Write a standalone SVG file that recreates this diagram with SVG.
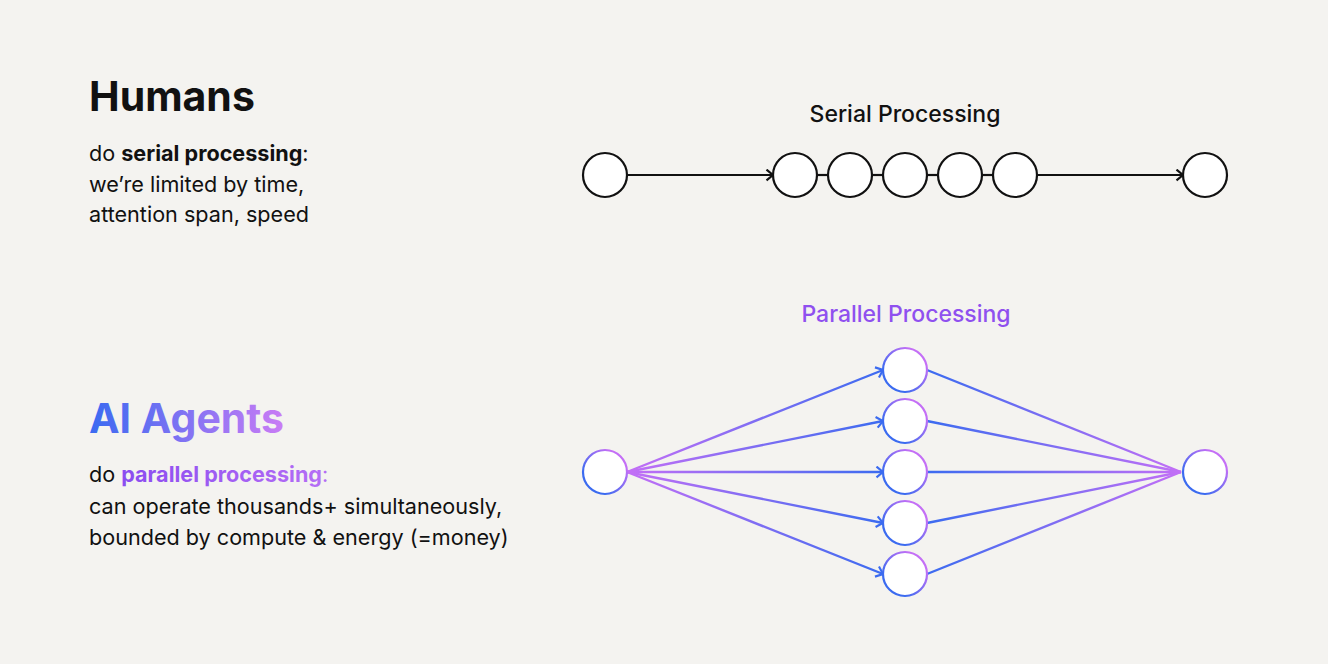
<svg xmlns="http://www.w3.org/2000/svg" width="1328" height="664" viewBox="0 0 1328 664">
<defs>
<style>
.t{font-family:Inter,"Liberation Sans",sans-serif;fill:#111}
.h{font-size:41px;font-weight:700}
.b{font-size:21.6px}
.title{font-size:23px;font-weight:500;text-anchor:middle}
.sn{fill:#fff;stroke:#111;stroke-width:2.2}
.sl{stroke:#111;stroke-width:2.2;fill:none}
.pn{fill:#fff;stroke:url(#gNode);stroke-width:2.2}
</style>
<linearGradient id="gNode" x1="0" y1="1" x2="1" y2="0">
<stop offset="0.25" stop-color="#3b6bf0"/>
<stop offset="0.8" stop-color="#c46ff6"/>
</linearGradient>
<linearGradient id="gLeft" gradientUnits="userSpaceOnUse" x1="627" y1="0" x2="883" y2="0">
<stop offset="0" stop-color="#c46ff6"/>
<stop offset="1" stop-color="#3b6bf0"/>
</linearGradient>
<linearGradient id="gRight" gradientUnits="userSpaceOnUse" x1="927" y1="0" x2="1183" y2="0">
<stop offset="0" stop-color="#3b6bf0"/>
<stop offset="1" stop-color="#c46ff6"/>
</linearGradient>
<linearGradient id="gTitle" gradientUnits="userSpaceOnUse" x1="89" y1="0" x2="287" y2="0">
<stop offset="0" stop-color="#3a6af1"/>
<stop offset="1" stop-color="#cc7cf5"/>
</linearGradient>
<linearGradient id="gPP" gradientUnits="userSpaceOnUse" x1="120" y1="0" x2="315" y2="0">
<stop offset="0" stop-color="#8a4cf0"/>
<stop offset="1" stop-color="#b36cf5"/>
</linearGradient>
<marker id="aBlack" viewBox="0 0 12 12" refX="11" refY="6" markerWidth="13" markerHeight="13" markerUnits="userSpaceOnUse" orient="auto">
<path d="M5 1 L11 6 L5 11" fill="none" stroke="#111" stroke-width="2"/>
</marker>
<marker id="aBlue" viewBox="0 0 12 12" refX="11" refY="6" markerWidth="13" markerHeight="13" markerUnits="userSpaceOnUse" orient="auto">
<path d="M5 1 L11 6 L5 11" fill="none" stroke="#3b6bf0" stroke-width="2"/>
</marker>
</defs>
<rect width="1328" height="664" fill="#f4f3f0"/>

<g id="humans-text">
<text class="t h" x="89" y="111">Humans</text>
<text class="t b" x="89" y="161">do <tspan font-weight="700">serial processing</tspan>:</text>
<text class="t b" x="89" y="192">we’re limited by time,</text>
<text class="t b" x="89" y="222">attention span, speed</text>
</g>

<g id="agents-text">
<text class="t h" x="89" y="433" style="fill:url(#gTitle)">AI Agents</text>
<text class="t b" x="89" y="482">do <tspan font-weight="700" style="fill:url(#gPP)">parallel processing</tspan><tspan style="fill:#b36cf5">:</tspan></text>
<text class="t b" x="89" y="514">can operate thousands+ simultaneously,</text>
<text class="t b" x="89" y="545">bounded by compute &amp; energy (=money)</text>
</g>

<text id="serial-title" class="t title" x="905" y="122">Serial Processing</text>
<text id="parallel-title" class="t title" x="906" y="322" style="fill:#8f50ef">Parallel Processing</text>

<g id="connectors">
<line class="sl" x1="627" y1="175" x2="773" y2="175" marker-end="url(#aBlack)"/>
<line class="sl" x1="817" y1="175" x2="828" y2="175"/>
<line class="sl" x1="872" y1="175" x2="883" y2="175"/>
<line class="sl" x1="927" y1="175" x2="938" y2="175"/>
<line class="sl" x1="982" y1="175" x2="993" y2="175"/>
<line class="sl" x1="1037" y1="175" x2="1183" y2="175" marker-end="url(#aBlack)"/>

<g fill="none" stroke="url(#gLeft)" stroke-width="2.4" marker-end="url(#aBlue)">
<path d="M627 472 L883 370"/>
<path d="M627 472 L883 421"/>
<path d="M627 472 L883 472"/>
<path d="M627 472 L883 523"/>
<path d="M627 472 L883 574"/>
</g>
<g fill="none" stroke="url(#gRight)" stroke-width="2.4">
<path d="M927 370 L1181 472"/>
<path d="M927 421 L1181 472"/>
<path d="M927 472 L1181 472"/>
<path d="M927 523 L1181 472"/>
<path d="M927 574 L1181 472"/>
</g>
</g>

<g id="s1"><circle class="sn" cx="605" cy="175" r="22"/></g>
<g id="s2"><circle class="sn" cx="795" cy="175" r="22"/></g>
<g id="s3"><circle class="sn" cx="850" cy="175" r="22"/></g>
<g id="s4"><circle class="sn" cx="905" cy="175" r="22"/></g>
<g id="s5"><circle class="sn" cx="960" cy="175" r="22"/></g>
<g id="s6"><circle class="sn" cx="1015" cy="175" r="22"/></g>
<g id="s7"><circle class="sn" cx="1205" cy="175" r="22"/></g>

<g id="p-src"><circle class="pn" cx="605" cy="472" r="22"/></g>
<g id="p1"><circle class="pn" cx="905" cy="370" r="22"/></g>
<g id="p2"><circle class="pn" cx="905" cy="421" r="22"/></g>
<g id="p3"><circle class="pn" cx="905" cy="472" r="22"/></g>
<g id="p4"><circle class="pn" cx="905" cy="523" r="22"/></g>
<g id="p5"><circle class="pn" cx="905" cy="574" r="22"/></g>
<g id="p-dst"><circle class="pn" cx="1205" cy="472" r="22"/></g>
</svg>
